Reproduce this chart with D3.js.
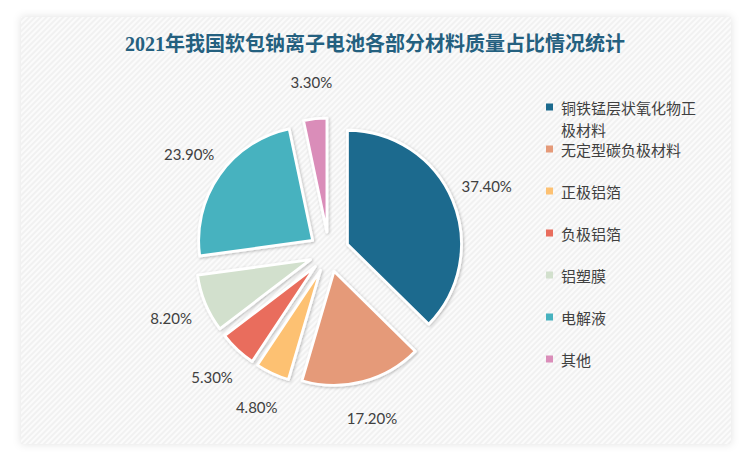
<!DOCTYPE html>
<html><head><meta charset="utf-8">
<script src="https://cdn.jsdelivr.net/npm/d3@7/dist/d3.min.js"></script>
<style>html,body{margin:0;padding:0;background:#fff;}svg{display:block;}</style>
</head><body>
<svg id="chart" width="750" height="461"></svg>
<script>
const title = "2021年我国软包钠离子电池各部分材料质量占比情况统计";
const categories = ["铜铁锰层状氧化物正极材料","无定型碳负极材料","正极铝箔","负极铝箔","铝塑膜","电解液","其他"];
const values = [37.4, 17.2, 4.8, 5.3, 8.2, 23.9, 3.3];
const valueLabels = ["37.40%","17.20%","4.80%","5.30%","8.20%","23.90%","3.30%"];
const colors = ["#1b6a8e","#e59a79","#fdc172","#e96d5d","#d2e0cd","#47b2bf","#da8db9"];
const legendLines = [["铜铁锰层状氧化物正","极材料"],["无定型碳负极材料"],["正极铝箔"],["负极铝箔"],["铝塑膜"],["电解液"],["其他"]];

const svg = d3.select("#chart");
const defs = svg.append("defs");
const pat = defs.append("pattern").attr("id","hatch").attr("patternUnits","userSpaceOnUse")
  .attr("width",4).attr("height",4).attr("patternTransform","rotate(45)");
pat.append("rect").attr("width",4).attr("height",4).attr("fill","#fbfbfb");
pat.append("rect").attr("width",2).attr("height",4).attr("fill","#f1f1f1");
const sh = defs.append("filter").attr("id","panelShadow").attr("x","-5%").attr("y","-5%").attr("width","110%").attr("height","110%");
sh.append("feDropShadow").attr("dx",0).attr("dy",0).attr("stdDeviation",4).attr("flood-color","#000").attr("flood-opacity",0.12);
const ps = defs.append("filter").attr("id","pieShadow").attr("x","-20%").attr("y","-20%").attr("width","140%").attr("height","140%");
ps.append("feDropShadow").attr("dx",1).attr("dy",1).attr("stdDeviation",1.5).attr("flood-color","#000").attr("flood-opacity",0.25);

// panel
svg.append("rect").attr("x",21).attr("y",17).attr("width",710).attr("height",427)
  .attr("fill","url(#hatch)").attr("filter","url(#panelShadow)");

svg.append("text").attr("x",375).attr("y",51).attr("text-anchor","middle")
  .attr("font-family","'Liberation Serif','Noto Sans CJK SC',serif").attr("font-weight","bold")
  .attr("font-size",20).attr("fill","#24607f").text(title);

const cx = 329, cy = 252, R = 114, explode = 20, labelR = 151;
const pie = d3.pie().sort(null).value(d => d)(values);
const arc = d3.arc().innerRadius(0).outerRadius(R);

const g = svg.append("g").attr("transform",`translate(${cx},${cy})`);
pie.forEach((p,i) => {
  const mid = (p.startAngle + p.endAngle)/2;
  const ox = explode*Math.sin(mid), oy = -explode*Math.cos(mid);
  g.append("path").attr("d",arc(p)).attr("transform",`translate(${ox},${oy})`)
    .attr("fill",colors[i]).attr("stroke","#fff").attr("stroke-width",2.8)
    .attr("stroke-linejoin","round").attr("filter","url(#pieShadow)");
  g.append("text").attr("x",ox + labelR*Math.sin(mid)).attr("y",oy - labelR*Math.cos(mid))
    .attr("text-anchor","middle").attr("dominant-baseline","central")
    .attr("font-family","Lato, 'Open Sans', sans-serif").attr("font-size",15)
    .attr("fill","#404040").text(valueLabels[i]);
});

// legend
const ly = d3.scalePoint().domain(categories).range([107,359]);
const lg = svg.append("g");
categories.forEach((c,i) => {
  const y = ly(c);
  lg.append("rect").attr("x",546).attr("y",y-3.5).attr("width",7).attr("height",7).attr("fill",colors[i]);
  legendLines[i].forEach((t,j) => {
    lg.append("text").attr("x",561).attr("y",y + j*22).attr("dominant-baseline","central")
      .attr("font-family","'Noto Sans CJK SC',sans-serif").attr("font-size",15)
      .attr("fill","#404040").text(t);
  });
});
</script>
</body></html>
